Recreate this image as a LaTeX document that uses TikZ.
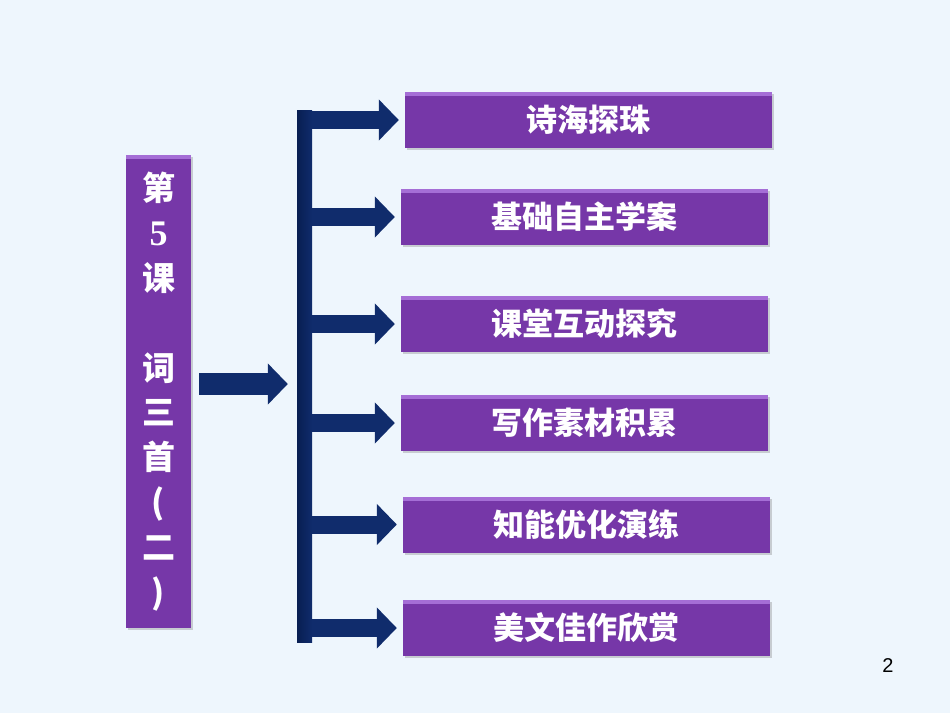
\documentclass[tikz,border=0pt]{standalone}
\usepackage{fontspec}
\usetikzlibrary{arrows.meta,shadows,calc}
\newfontfamily\cjk{Noto Sans CJK SC}
\newfontfamily\numfont{Liberation Serif}
\newfontfamily\pagefont{Liberation Sans}

\definecolor{bgblue}{RGB}{238,246,253}
\definecolor{boxpurple}{RGB}{118,55,168}
\definecolor{boxlight}{RGB}{165,110,214}
\definecolor{navy}{RGB}{16,44,108}
\definecolor{navydark}{RGB}{8,30,82}

\tikzset{
  purplebox/.style={fill=boxpurple, minimum height=56pt, inner sep=0pt,
    text=white, font=\cjk\bfseries\fontsize{31}{36}\selectfont,
    drop shadow={shadow xshift=1.5pt, shadow yshift=-2pt, opacity=0.35},
    path picture={\fill[boxlight] (path picture bounding box.north west)
      rectangle ([yshift=-4pt]path picture bounding box.north east);}},
  item/.style={purplebox, minimum width=367pt},
  arr/.style={line width=18pt, draw=navy, shorten >=6pt,
    -{Triangle[width=40pt,length=20pt]}}
}

\begin{document}
\begin{tikzpicture}[x=1pt,y=-1pt]

% Fond
\fill[bgblue] (0,0) rectangle (950,713);
\useasboundingbox (0,0) rectangle (950,713);

% Titre de la lecon
\node[purplebox, minimum width=65pt, minimum height=473pt, align=center,
  font=\cjk\bfseries\fontsize{33}{44.8}\selectfont]
  (lesson) at (158.5,391.5)
  {第\\{\numfont\bfseries\fontsize{36}{44.8}\selectfont 5}\\课\\[44.8pt]词\\三\\首\\(\\二\\)};

% Barre verticale
\node[minimum width=15pt, minimum height=532pt, inner sep=0pt,
  left color=navydark, right color=navy] (bar) at (304.5,376) {};

% Les rubriques
\node[item] (s1) at (588.5,120) {诗海探珠};
\node[item] (s2) at (584.5,217) {基础自主学案};
\node[item] (s3) at (584.5,324) {课堂互动探究};
\node[item] (s4) at (584.5,423) {写作素材积累};
\node[item] (s5) at (586.5,524.5) {知能优化演练};
\node[item] (s6) at (586.5,628) {美文佳作欣赏};

% Fleche principale
\draw[arr, line width=22pt, shorten >=0pt]
  ([xshift=8pt,yshift=7.5pt]lesson.east) -- ([xshift=-9pt,yshift=-8pt]bar.west);

% Les fleches
\foreach \s in {s1,s2,s3,s4,s5,s6}
  \draw[arr] (bar.east |- \s) -- (\s.west);

% Numero de page
\node[font=\pagefont\fontsize{20}{24}\selectfont] (page) at (888,666) {2};

\end{tikzpicture}
\end{document}
